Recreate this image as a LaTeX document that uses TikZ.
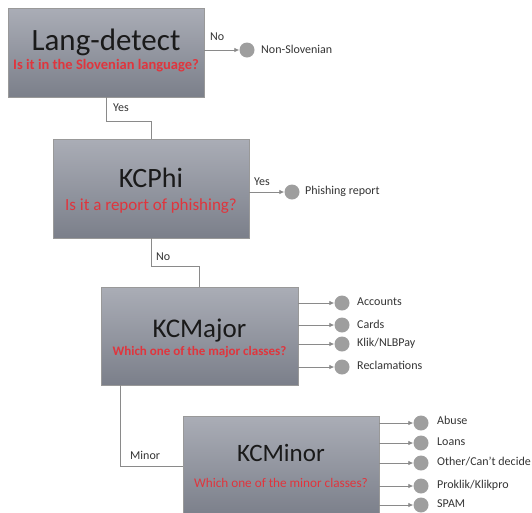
\documentclass[tikz,border=0pt]{standalone}
\usepackage{fontspec}
\setmainfont{Carlito}
\usetikzlibrary{arrows.meta,calc}
\definecolor{boxtop}{HTML}{AAADB6}
\definecolor{boxbot}{HTML}{7B7F8A}
\definecolor{qred}{HTML}{E0353D}
\definecolor{linegray}{HTML}{8A8A8A}
\definecolor{dotgray}{HTML}{9E9E9E}
\definecolor{ink}{HTML}{1A1A1A}
\definecolor{lblink}{HTML}{333333}
\tikzset{
  x=1pt,y=-1pt,
  decbox/.style={rectangle,draw=gray!80,line width=0.6pt,top color=boxtop,bottom color=boxbot,inner sep=0pt},
  title/.style={text=ink,inner sep=0pt,anchor=base},
  question/.style={text=qred,inner sep=0pt,anchor=base},
  dot/.style={circle,fill=dotgray,draw=none,minimum size=15pt,inner sep=0pt},
  outlbl/.style={anchor=west,inner sep=0pt,text=lblink,font=\fontsize{12}{14}\selectfont},
  edgelbl/.style={inner sep=0pt,text=lblink,font=\fontsize{12}{14}\selectfont},
  conn/.style={draw=linegray,line width=0.8pt},
  arr/.style={conn,-{Latex[length=5pt,width=4.5pt]}}
}
\begin{document}
\begin{tikzpicture}
\useasboundingbox (0,0) rectangle (532,512);
\begin{scope}
\clip (0,0) rectangle (532,512);
% boxes
\node[decbox,minimum width=196pt,minimum height=89pt] (b1) at (106,52.5) {};
\node[decbox,minimum width=196pt,minimum height=99pt] (b2) at (151,188.5) {};
\node[decbox,minimum width=197pt,minimum height=98pt] (b3) at (199.5,336) {};
\node[decbox,minimum width=196pt,minimum height=100pt] (b4) at (281,466) {};
\end{scope}
% box texts
\node[title,font=\fontsize{31}{32}\selectfont] (t1) at (106,50) {Lang-detect};
\node[question,font=\bfseries\fontsize{14.5}{16}\selectfont] (q1) at (106,69) {Is it in the Slovenian language?};
\node[title,font=\fontsize{28}{30}\selectfont] (t2) at (151,187) {KCPhi};
\node[question,font=\fontsize{17}{19}\selectfont] (q2) at (151,210) {Is it a report of phishing?};
\node[title,font=\fontsize{27}{29}\selectfont] (t3) at (199.5,337) {KCMajor};
\node[question,font=\bfseries\fontsize{13}{15}\selectfont] (q3) at (199.5,355) {Which one of the major classes?};
\node[title,font=\fontsize{25}{27}\selectfont] (t4) at (281,461) {KCMinor};
\node[question,font=\fontsize{13.2}{15}\selectfont] (q4) at (281,487) {Which one of the minor classes?};
% outcome dots
\node[dot] (c1) at (247,50) {};
\node[dot] (c2) at (292,192) {};
\node[dot] (m1) at (342,303) {};
\node[dot] (m2) at (342,325) {};
\node[dot] (m3) at (342,344) {};
\node[dot] (m4) at (342,367) {};
\node[dot] (n1) at (421,423) {};
\node[dot] (n2) at (421,443) {};
\node[dot] (n3) at (421,463) {};
\node[dot] (n4) at (421,486) {};
\node[dot] (n5) at (421,505) {};
% outcome labels
\node[outlbl] (l1) at (261,49) {Non-Slovenian};
\node[outlbl] (l2) at (305,191) {Phishing report};
\node[outlbl] (lm1) at (357,302) {Accounts};
\node[outlbl] (lm2) at (357,324) {Cards};
\node[outlbl] (lm3) at (357,343) {Klik/NLBPay};
\node[outlbl] (lm4) at (357,365) {Reclamations};
\node[outlbl] (ln1) at (437,420) {Abuse};
\node[outlbl] (ln2) at (437,442) {Loans};
\node[outlbl] (ln3) at (437,462) {Other/Can't decide};
\node[outlbl] (ln4) at (437,485) {Proklik/Klikpro};
\node[outlbl] (ln5) at (437,504) {SPAM};
% arrows out
\draw[arr] (b1.east |- c1) -- (c1);
\draw[arr] (b2.east |- c2) -- (c2);
\foreach \d in {m1,m2,m3,m4}{\draw[arr] (b3.east |- \d) -- (\d);}
\foreach \d in {n1,n2,n3,n4,n5}{\draw[arr] (b4.east |- \d) -- (\d);}
% connectors between boxes
\draw[conn] (b1.south) -- ++(0,24) -| (b2.north);
\draw[conn] (b2.south) -- ++(0,28) -| (b3.north);
\coordinate (mstart) at ($(b3.south west)+(20,0)$);
\draw[conn] (mstart) |- (b4.west);
% connector labels
\node[edgelbl,anchor=west] (e1) at (210,37) {No};
\node[edgelbl,anchor=west] (e2) at (113,108) {Yes};
\node[edgelbl,anchor=west] (e3) at (254,182) {Yes};
\node[edgelbl,anchor=west] (e4) at (156,257) {No};
\node[edgelbl,anchor=west] (e5) at (130,455) {Minor};
\end{tikzpicture}
\end{document}
